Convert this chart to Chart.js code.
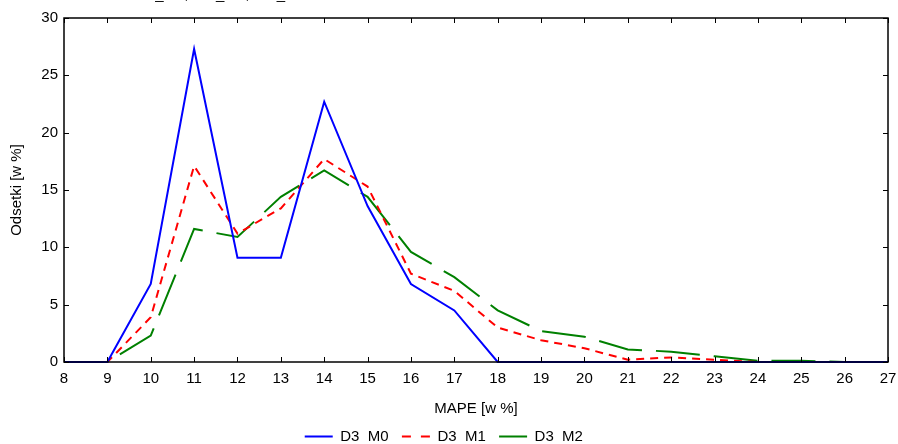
<!DOCTYPE html>
<html>
<head>
<meta charset="utf-8">
<script src="https://cdn.jsdelivr.net/npm/chart.js@4.4.0/dist/chart.umd.min.js"></script>
<style>
  html, body { margin: 0; padding: 0; background: #fff; }
  #wrap { width: 898px; height: 444px; }
</style>
</head>
<body>
<div id="wrap"><canvas id="chart" width="898" height="444"></canvas></div>
<script>
// MAPE values (x axis) and share of cases per series
const mape = [8, 9, 10, 11, 12, 13, 14, 15, 16, 17, 18, 19, 20, 21, 22, 23, 24, 25, 26, 27];
const d3m0 = [0, 0, 6.8, 27.3, 9.1, 9.1, 22.7, 13.6, 6.8, 4.5, 0, 0, 0, 0, 0, 0, 0, 0, 0, 0];
const d3m1 = [0, 0, 3.9, 17.1, 11.2, 13.4, 17.7, 15.3, 7.7, 6.2, 3.0, 1.9, 1.2, 0.2, 0.4, 0.2, 0, 0, 0, 0];
const d3m2 = [0, 0, 2.3, 11.6, 10.9, 14.4, 16.7, 14.4, 9.6, 7.4, 4.5, 2.7, 2.2, 1.1, 0.9, 0.5, 0.1, 0.1, 0, 0];
const seriesNames = ["D3\u00a0\u00a0M0", "D3\u00a0\u00a0M1", "D3\u00a0\u00a0M2"];
const topTitle = "D3_M0;  D3_M1;  D3_M2";

const FONT = "'Liberation Sans', Arial, sans-serif";
const FS = 15;

function pts(vals) {
  return mape.map((x, i) => ({ x: x, y: vals[i] }));
}

// box around plot area + inward ticks on all four sides
const frame = {
  id: "frame",
  afterDatasetsDraw(chart) {
    const { ctx, chartArea: a, scales } = chart;
    ctx.save();
    ctx.strokeStyle = "#000";
    ctx.lineWidth = 1.5;
    ctx.strokeRect(a.left, a.top, a.right - a.left, a.bottom - a.top);
    ctx.lineWidth = 1;
    scales.x.ticks.forEach(t => {
      const px = Math.round(scales.x.getPixelForValue(t.value)) + 0.5;
      ctx.beginPath();
      ctx.moveTo(px, a.bottom); ctx.lineTo(px, a.bottom - 5);
      ctx.moveTo(px, a.top); ctx.lineTo(px, a.top + 5);
      ctx.stroke();
    });
    scales.y.ticks.forEach(t => {
      const py = Math.round(scales.y.getPixelForValue(t.value)) + 0.5;
      ctx.beginPath();
      ctx.moveTo(a.left, py); ctx.lineTo(a.left + 5, py);
      ctx.moveTo(a.right, py); ctx.lineTo(a.right - 5, py);
      ctx.stroke();
    });
    ctx.restore();
  }
};

// title that sits mostly above the page edge, only its bottom shows
const cutTitle = {
  id: "cutTitle",
  afterDraw(chart) {
    const ctx = chart.ctx;
    ctx.save();
    ctx.font = FS + "px " + FONT;
    ctx.fillStyle = "#000";
    ctx.textAlign = "center";
    ctx.textBaseline = "alphabetic";
    ctx.fillText(topTitle, 221, -1);
    ctx.restore();
  }
};

new Chart(document.getElementById("chart"), {
  type: "line",
  data: {
    datasets: [
      { label: seriesNames[0], data: pts(d3m0), borderColor: "#0000ff", backgroundColor: "rgba(0,0,0,0)",
        borderWidth: 2, pointRadius: 0, tension: 0 },
      { label: seriesNames[1], data: pts(d3m1), borderColor: "#ff0000", backgroundColor: "rgba(0,0,0,0)",
        borderWidth: 2, borderDash: [8, 6], pointRadius: 0, tension: 0 },
      { label: seriesNames[2], data: pts(d3m2), borderColor: "#008000", backgroundColor: "rgba(0,0,0,0)",
        borderWidth: 2, borderDash: [44, 14], pointRadius: 0, tension: 0 }
    ]
  },
  options: {
    responsive: false,
    animation: false,
    clip: 4,
    layout: { padding: { left: 8, right: 10, top: 18, bottom: -10 } },
    plugins: {
      tooltip: { enabled: false },
      legend: {
        position: "bottom",
        labels: {
          font: { family: FONT, size: FS },
          color: "#000",
          boxWidth: 28,
          boxHeight: 0,
          padding: 5,
          generateLabels(chart) {
            const items = Chart.defaults.plugins.legend.labels.generateLabels(chart);
            items.forEach(it => {
              it.text = it.text + "\u00a0\u00a0";
              // short dashes: two dashes in the sample, nothing on the way back
              if (it.lineDash && it.lineDash.length && it.lineDash[0] < 20) it.lineDash = [9, 10, 9, 100];
            });
            return items;
          }
        }
      }
    },
    scales: {
      x: {
        type: "linear",
        min: 8,
        max: 27,
        ticks: { stepSize: 1, color: "#000", font: { family: FONT, size: FS }, padding: 8 },
        grid: { display: false, drawTicks: false },
        border: { display: false },
        title: { display: true, text: "MAPE [w %]", color: "#000", font: { family: FONT, size: FS }, padding: { top: 8, bottom: 6 } },
        afterFit(s) { s.height = 62; s.paddingLeft = 0; s.paddingRight = 0; }
      },
      y: {
        min: 0,
        max: 30,
        ticks: { stepSize: 5, color: "#000", font: { family: FONT, size: FS }, padding: 6 },
        grid: { display: false, drawTicks: false },
        border: { display: false },
        title: { display: true, text: "Odsetki [w %]", color: "#000", font: { family: FONT, size: FS }, padding: { top: 0, bottom: 8 } },
        afterFit(s) { s.width = 56; s.paddingTop = 0; s.paddingBottom = 0; }
      }
    }
  },
  plugins: [frame, cutTitle]
});
</script>
</body>
</html>
